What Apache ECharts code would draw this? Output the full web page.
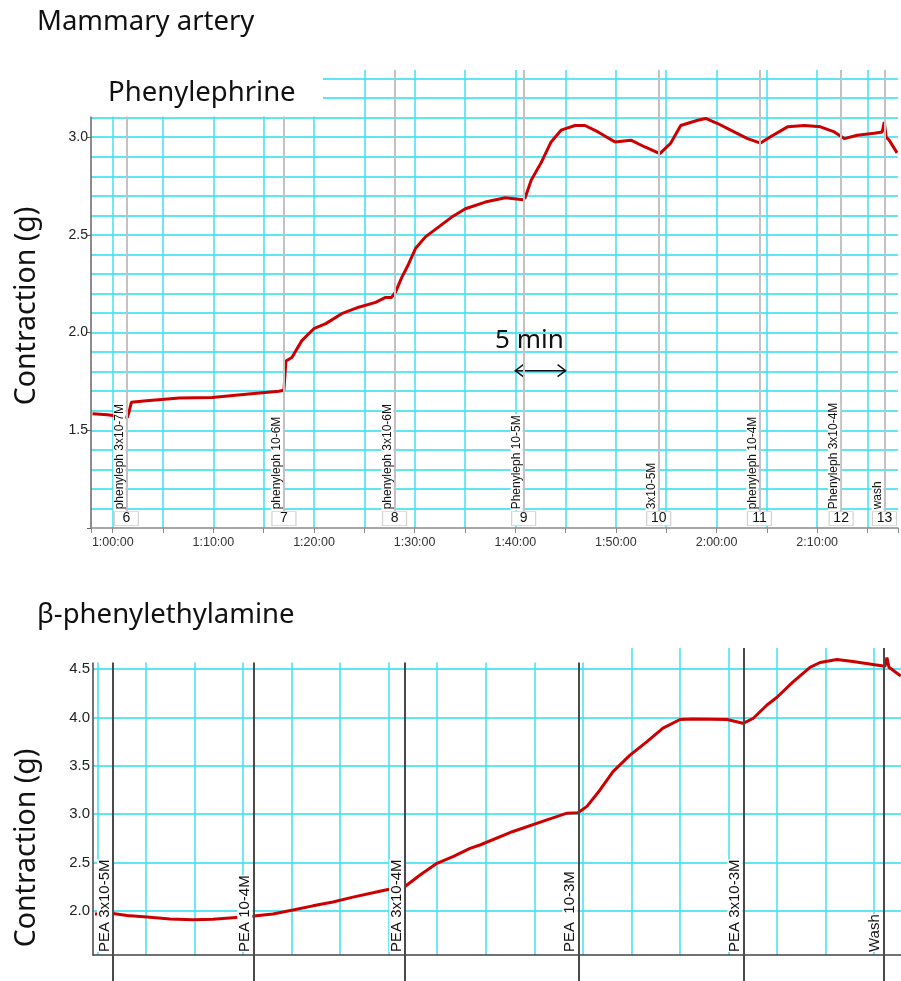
<!DOCTYPE html>
<html><head><meta charset="utf-8">
<script src="https://cdn.jsdelivr.net/npm/echarts@6/dist/echarts.min.js"></script>
<style>html,body{margin:0;padding:0;background:#fff}#c{width:901px;height:981px}</style>
</head><body><div id="c"></div>
<script>
// ---------- Top panel: Phenylephrine (time in minutes, contraction in g) ----------
const phenylTime = [57.99,59.47,61.46,61.65,61.85,63.34,66.61,69.88,73.24,76.51,77.01,77.21,77.80,78.79,79.98,81.17,82.75,84.44,86.12,87.11,87.70,88.10,88.70,89.39,90.08,91.07,92.36,93.65,95.04,97.02,99.00,100.78,100.98,101.58,102.57,103.56,104.55,105.94,106.93,108.22,109.90,111.49,112.88,114.36,115.45,116.44,118.12,118.92,120.11,121.40,123.08,124.37,125.36,127.05,128.73,130.32,131.70,132.69,133.98,135.67,136.46,136.66,136.86,137.15,137.94];
const phenylForce = [1.585,1.58,1.566,1.60,1.643,1.651,1.665,1.668,1.685,1.70,1.705,1.855,1.873,1.959,2.02,2.046,2.097,2.13,2.155,2.18,2.18,2.207,2.28,2.35,2.43,2.49,2.54,2.59,2.634,2.668,2.69,2.68,2.69,2.78,2.87,2.976,3.036,3.06,3.06,3.027,2.976,2.985,2.95,2.916,2.97,3.06,3.087,3.096,3.07,3.036,2.993,2.97,3.002,3.053,3.06,3.053,3.027,2.993,3.01,3.02,3.027,3.078,3.0,2.985,2.92];
const topMarkerTimes = [61.36,77.01,88.0,100.83,114.25,124.26,132.38,136.69];
const topMarkerLabels = ['phenyleph 3x10-7M','phenyleph 10-6M','phenyleph 3x10-6M','Phenyleph 10-5M','3x10-5M','phenyleph 10-4M','Phenyleph 3x10-4M','wash'];
const topMarkerNumbers = ['6','7','8','9','10','11','12','13'];
const topTimeLabels = ['1:00:00','1:10:00','1:20:00','1:30:00','1:40:00','1:50:00','2:00:00','2:10:00'];
const topYLabels = ['1.5','2.0','2.5','3.0'];

// ---------- Bottom panel: beta-phenylethylamine ----------
const peaTime = [-0.24,1.62,3.06,5.12,7.49,9.85,11.92,14.28,16.14,18.09,20.15,22.21,24.27,26.33,28.39,29.94,31.69,33.24,34.98,36.63,38.38,39.41,42.81,46.31,48.37,49.50,50.43,51.77,53.11,54.86,56.61,58.26,60.01,61.35,64.85,66.50,67.53,68.97,70.00,71.65,73.40,74.43,76.18,77.82,79.88,81.12,81.32,81.53,82.76];
const peaForce = [1.966,1.97,1.95,1.935,1.915,1.905,1.91,1.93,1.945,1.965,2.007,2.05,2.09,2.14,2.185,2.22,2.25,2.37,2.49,2.56,2.645,2.68,2.82,2.94,3.01,3.015,3.08,3.25,3.44,3.61,3.75,3.89,3.98,3.985,3.98,3.94,3.99,4.13,4.21,4.37,4.52,4.57,4.60,4.58,4.55,4.53,4.62,4.52,4.43];
const bottomMarkerTimes = [1.62,16.07,31.69,49.54,66.55,80.97];
const bottomMarkerLabels = ['PEA 3x10-5M','PEA 10-4M','PEA 3x10-4M','PEA  10-3M','PEA 3x10-3M','Wash'];
const bottomYLabels = ['2.0','2.5','3.0','3.5','4.0','4.5'];

const scaleStart = 100, scaleEnd = 105, scaleLevel = 1.805; // "5 min" scale bar

const cyan = '#3fe1f3';
const cyanH = '#5fe6f5';
const labFont = 'Liberation Sans';
const titleFont = 'Noto Sans';

function pick(v, start, step, arr) {
  const k = Math.round((v - start) / step);
  if (Math.abs(v - (start + step * k)) > 1e-6) return '';
  return arr[k] !== undefined ? arr[k] : '';
}

const chart = echarts.init(document.getElementById('c'));
const option = {
  animation: false,
  grid: [
    {left: 91, right: 0, top: 70, height: 458},
    {left: 93, right: 0, top: 648, height: 307},
    {left: 93, right: 0, top: 955, height: 26}
  ],
  xAxis: [
    {gridIndex: 0, type: 'value', min: 57.84, max: 138.03, minInterval: 5, maxInterval: 5, splitNumber: 16,
     axisLine: {show: true, onZero: false, lineStyle: {color: '#8a8a8a', width: 1.5}},
     axisTick: {show: true, length: 5, lineStyle: {color: '#8a8a8a'}},
     axisLabel: {formatter: v => pick(v, 60, 10, topTimeLabels), fontSize: 12.5, color: '#333', margin: 8, fontFamily: labFont},
     splitLine: {show: true, showMinLine: false, showMaxLine: false, lineStyle: {color: cyan, width: 1.5}}},
    {gridIndex: 1, type: 'value', min: -0.443, max: 82.77, minInterval: 5, maxInterval: 5, splitNumber: 16,
     axisLine: {show: true, onZero: false, lineStyle: {color: '#444', width: 1.5}},
     axisTick: {show: false}, axisLabel: {show: false},
     splitLine: {show: true, showMinLine: false, showMaxLine: false, lineStyle: {color: cyan, width: 1.5}}},
    {gridIndex: 2, type: 'value', min: -0.443, max: 82.77, show: false}
  ],
  yAxis: [
    {gridIndex: 0, type: 'value', min: 1.0, max: 3.344, interval: 0.5,
     axisLine: {show: true, onZero: false, lineStyle: {color: '#666', width: 1.5}},
     axisTick: {show: true, length: 4, lineStyle: {color: '#666'}},
     axisLabel: {formatter: v => pick(v, 1.5, 0.5, topYLabels), fontSize: 14, color: '#222', margin: 3, fontFamily: labFont},
     splitLine: {show: true, showMinLine: false, showMaxLine: false, lineStyle: {color: cyanH, width: 2}},
     minorTick: {show: false, splitNumber: 5},
     minorSplitLine: {show: true, lineStyle: {color: cyanH, width: 2}}},
    {gridIndex: 1, type: 'value', min: 1.541, max: 4.72, minInterval: 0.5, maxInterval: 0.5, splitNumber: 6,
     axisLine: {show: true, onZero: false, lineStyle: {color: '#444', width: 1.5}},
     axisTick: {show: false},
     axisLabel: {formatter: v => pick(v, 2.0, 0.5, bottomYLabels), fontSize: 15, color: '#222', margin: 3, fontFamily: labFont},
     splitLine: {show: true, showMinLine: false, showMaxLine: false, lineStyle: {color: cyanH, width: 2}}},
    {gridIndex: 2, type: 'value', min: 0, max: 1, show: false}
  ],
  series: [
    {type: 'line', xAxisIndex: 0, yAxisIndex: 0, z: 3, showSymbol: false, silent: true,
     data: phenylTime.map((t, i) => [t, phenylForce[i]]),
     lineStyle: {color: '#cc0000', width: 3}},
    {type: 'line', xAxisIndex: 0, yAxisIndex: 0, z: 5, data: [], silent: true,
     markLine: {silent: true, symbol: ['none', 'none'], animation: false,
       lineStyle: {color: '#c2c2c2', width: 2, type: 'solid'},
       label: {show: true, position: 'insideStartTop', distance: [2, 1], formatter: p => p.name,
               fontSize: 12, color: '#111', fontFamily: labFont, backgroundColor: '#fff', padding: [0, 1]},
       data: topMarkerTimes.map((t, i) => [{coord: [t, 1.08], name: topMarkerLabels[i]}, {coord: [t, 3.344]}])}},
    {type: 'line', xAxisIndex: 0, yAxisIndex: 0, z: 6, data: [], silent: true,
     markPoint: {silent: true, symbol: 'rect', symbolSize: [24, 14], animation: false,
       itemStyle: {color: '#fff', borderColor: '#d4d4d4', borderWidth: 1},
       label: {show: true, position: 'inside', formatter: p => p.name, fontSize: 14, color: '#111',
               fontFamily: labFont, textBorderWidth: 0},
       data: topMarkerTimes.map((t, i) => ({coord: [t, 1.048], name: topMarkerNumbers[i]}))}},
    {type: 'line', xAxisIndex: 1, yAxisIndex: 1, z: 3, showSymbol: false, silent: true,
     data: peaTime.map((t, i) => [t, peaForce[i]]),
     lineStyle: {color: '#cc0000', width: 3}},
    {type: 'line', xAxisIndex: 1, yAxisIndex: 1, z: 5, data: [], silent: true,
     markLine: {silent: true, symbol: ['none', 'none'], animation: false,
       lineStyle: {color: '#4a4a4a', width: 2, type: 'solid'},
       label: {show: true, position: 'insideStartTop', distance: [3, 1], formatter: p => p.name,
               fontSize: 15, color: '#111', fontFamily: labFont, backgroundColor: '#fff', padding: 0},
       data: bottomMarkerTimes.map((t, i) => ({xAxis: t, name: bottomMarkerLabels[i]}))}},
    {type: 'line', xAxisIndex: 2, yAxisIndex: 2, z: 5, data: [], silent: true,
     markLine: {silent: true, symbol: ['none', 'none'], animation: false,
       lineStyle: {color: '#4a4a4a', width: 2, type: 'solid'}, label: {show: false},
       data: bottomMarkerTimes.map(t => ({xAxis: t}))}}
  ]
};
chart.setOption(option);

const a = chart.convertToPixel({gridIndex: 0}, [scaleStart, scaleLevel]);
const b = chart.convertToPixel({gridIndex: 0}, [scaleEnd, scaleLevel]);
const txt = (text, x, y, size, rot) => ({type: 'text', x: x, y: y, rotation: rot || 0, z: 101,
  style: {text: text, fontSize: size, fontFamily: titleFont, fill: '#111', textAlign: rot ? 'center' : 'left', textVerticalAlign: 'middle'}});
chart.setOption({graphic: [
  {type: 'rect', shape: {x: 0, y: 40, width: 323, height: 76.5}, style: {fill: '#fff'}, z: 100},
  {type: 'rect', shape: {x: 0, y: 630, width: 605, height: 32.5}, style: {fill: '#fff'}, z: 100},
  txt('Mammary artery', 37, 22, 27.5),
  txt('Phenylephrine', 108, 93, 27.5),
  txt('β-phenylethylamine', 37, 615, 27.5),
  txt('Contraction (g)', 27, 306, 28.5, Math.PI / 2),
  txt('Contraction (g)', 27, 848, 28.5, Math.PI / 2),
  {type: 'text', x: (a[0] + b[0]) / 2 - 11, y: a[1] - 30, z: 101,
   style: {text: '5 min', fontSize: 26, fontFamily: titleFont, fill: '#111', textAlign: 'center', textVerticalAlign: 'middle'}},
  {type: 'group', z: 101, children: [
    {type: 'line', shape: {x1: a[0], y1: a[1], x2: b[0], y2: b[1]}, style: {stroke: '#111', lineWidth: 1.5}},
    {type: 'polyline', shape: {points: [[a[0] + 8, a[1] - 6], [a[0], a[1]], [a[0] + 8, a[1] + 6]]}, style: {stroke: '#111', lineWidth: 1.5, fill: null}},
    {type: 'polyline', shape: {points: [[b[0] - 8, b[1] - 6], [b[0], b[1]], [b[0] - 8, b[1] + 6]]}, style: {stroke: '#111', lineWidth: 1.5, fill: null}}
  ]}
]});
</script>
</body></html>
